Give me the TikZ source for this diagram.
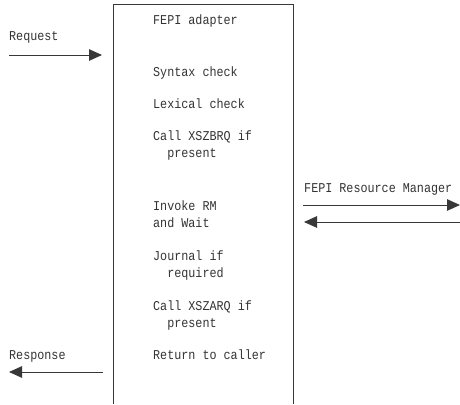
\documentclass[tikz,border=0pt]{standalone}
\usepackage{fontspec}
\newfontfamily\condmono[FakeStretch=0.87]{Liberation Mono}
\usetikzlibrary{arrows.meta}
\begin{document}
\begin{tikzpicture}[x=1pt,y=-1pt,
  txt/.style={anchor=base west,inner sep=0pt,font=\condmono\fontsize{13.5}{15}\selectfont,text=black!80},
  ln/.style={draw=black!78,line width=0.9pt},
  arr/.style={ln,-{Triangle[length=13pt,width=11.5pt]}}]
\useasboundingbox (0,0) rectangle (460,404);
% adapter box (open at bottom)
\coordinate (bl) at (113.5,404);
\coordinate (tl) at (113.5,4.5);
\coordinate (tr) at (293,4.5);
\coordinate (br) at (293,404);
\draw[ln] (bl) -- (tl) -- (tr) -- (br);
% texts
\node[txt] (t1) at (153,25) {FEPI adapter};
\node[txt] (t2) at (153,76) {Syntax check};
\node[txt] (t3) at (153,108) {Lexical check};
\node[txt] (t4) at (153,140) {Call XSZBRQ if};
\node[txt] (t4b) at (153,157.5) {\ \ present};
\node[txt] (t5) at (153,210) {Invoke RM};
\node[txt] (t5b) at (153,227) {and Wait};
\node[txt] (t6) at (153,260) {Journal if};
\node[txt] (t6b) at (153,277.5) {\ \ required};
\node[txt] (t7) at (153,310) {Call XSZARQ if};
\node[txt] (t7b) at (153,327) {\ \ present};
\node[txt] (t8) at (153,359) {Return to caller};
\node[txt] (req) at (9,41) {Request};
\node[txt] (resp) at (9,359) {Response};
\node[txt] (rm) at (304,192) {FEPI Resource Manager};
% arrows
\coordinate (reqA) at (9,55);
\coordinate (reqB) at (102,55);
\draw[arr] (reqA) -- (reqB);
\coordinate (respA) at (103,372);
\coordinate (respB) at (9,372);
\draw[arr] (respA) -- (respB);
\coordinate (rmA) at (303,205);
\coordinate (rmB) at (460,205);
\draw[arr] (rmA) -- (rmB);
\coordinate (rmC) at (460,222);
\coordinate (rmD) at (304,222);
\draw[arr] (rmC) -- (rmD);
\end{tikzpicture}
\end{document}
